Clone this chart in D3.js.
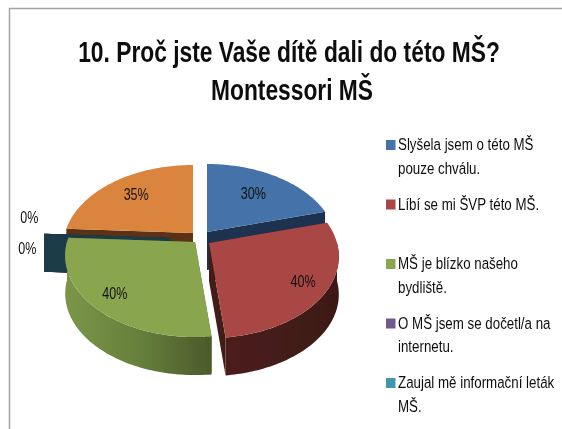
<!DOCTYPE html>
<html lang="cs">
<head>
<meta charset="utf-8">
<script src="https://cdn.jsdelivr.net/npm/d3@7"></script>
<style>
html,body{margin:0;padding:0;background:#fff}
svg{display:block}
text{font-family:"Liberation Sans",sans-serif;fill:#111}
</style>
</head>
<body>
<svg id="chart" width="562" height="429"></svg>
<script>
const titleLines = ["10. Proč jste Vaše dítě dali do této MŠ?", "Montessori MŠ"];
const sliceKeys = ["slysela", "libi", "blizko", "internet", "letak", "jine"];
const sliceValues = [30, 40, 40, 0, 0, 35];
const sliceLabels = ["30%", "40%", "40%", "0%", "0%", "35%"];
const legendLabels = [
  ["Slyšela jsem o této MŠ", "pouze chválu."],
  ["Líbí se mi ŠVP této MŠ."],
  ["MŠ je blízko našeho", "bydliště."],
  ["O MŠ jsem se dočetl/a na", "internetu."],
  ["Zaujal mě informační leták", "MŠ."]
];
const topColors = ["#4472a8", "#a94644", "#89a54e", "#71588f", "#4198af", "#db843d"];

// Layout (pixels), separate from the data
const W = 562, H = 429;
const R = 128, RY = 79.3, K = 0.166, DEPTH = 38;
const SQUEEZE = 0.76, LEGEND_SQUEEZE = 0.775;
const centers = [[207, 232], [209, 243], [195, 242], [171, 238], [171, 238], [193, 233]];
const wallColors = ["#1b3150", "#431b19", "#55682f", "#35294a", "#1b3b49", "#5c3316"];
const labelRadius = [0.65, 0.82, 0.82, 0, 0, 0.7];
const zeroLabelOffset = { 3: [-15, -15], 4: [-17, 16] };

const svg = d3.select("#chart");
const defs = svg.append("defs");
defs.append("filter").attr("id", "soft").append("feGaussianBlur").attr("stdDeviation", 0.35);
const grad = (id, x1, x2, stops) => {
  const g = defs.append("linearGradient").attr("id", id).attr("gradientUnits", "userSpaceOnUse")
    .attr("x1", x1).attr("x2", x2).attr("y1", 0).attr("y2", 0);
  stops.forEach(([o, c]) => g.append("stop").attr("offset", o).attr("stop-color", c));
};
grad("greenWall", 66, 212, [[0, "#7b9548"], [0.5, "#66803c"], [1, "#4a5a2a"]]);
grad("redWall", 212, 340, [[0, "#4f201e"], [0.6, "#431b19"], [1, "#3d1917"]]);

const root = svg.append("g").attr("filter", "url(#soft)");
const squeezed = (x, y, k = SQUEEZE) => `translate(${x},${y}) scale(${k},1)`;

// Frame
root.append("path").attr("d", d3.line()([[W, 8.5], [9.5, 8.5], [9.5, H]]))
  .attr("fill", "none").attr("stroke", "#a3a3a3").attr("stroke-width", 1.5);

// Title
root.selectAll("text.title").data(titleLines).join("text").attr("class", "title")
  .attr("transform", (d, i) => squeezed(289 + i * 3, 62 + i * 37.5))
  .attr("text-anchor", "middle").attr("font-size", 30).attr("font-weight", 700)
  .text(d => d);

// Perspective projection of a point on the unit pie plane
const project = (a, r, c, drop = 0) => {
  const u = Math.sin(a) * r, v = -Math.cos(a) * r, s = 1 / (1 - K * v);
  return [c[0] + R * u * s, c[1] + RY * v * s + drop];
};
const line = d3.line();
const sampleAngles = (a0, a1) => {
  const n = Math.max(2, Math.ceil(Math.abs(a1 - a0) / 0.02));
  return d3.range(n + 1).map(i => a0 + (a1 - a0) * i / n);
};

const arcs = d3.pie().sort(null).value(d => d)(sliceValues);
const paintOrder = [5, 3, 4, 0, 2, 1];

paintOrder.forEach(i => {
  const d = arcs[i], c = centers[i];
  const g = root.append("g").attr("data-key", sliceKeys[i]);
  // radial walls
  [d.startAngle, d.endAngle].forEach(a => {
    g.append("path").attr("fill", wallColors[i]).attr("d", line([
      project(a, 0, c), project(a, 1, c), project(a, 1, c, DEPTH), project(a, 0, c, DEPTH)
    ]) + "Z");
  });
  // outer rim, front half only
  const from = Math.max(d.startAngle, Math.PI / 2), to = Math.min(d.endAngle, Math.PI * 1.5);
  if (to > from) {
    const as = sampleAngles(from, to);
    const pts = as.map(a => project(a, 1, c)).concat(as.slice().reverse().map(a => project(a, 1, c, DEPTH)));
    g.append("path").attr("d", line(pts) + "Z")
      .attr("fill", i === 2 ? "url(#greenWall)" : i === 1 ? "url(#redWall)" : wallColors[i]);
  }
  // top face
  if (d.endAngle > d.startAngle) {
    const pts = [project(0, 0, c)].concat(sampleAngles(d.startAngle, d.endAngle).map(a => project(a, 1, c)));
    g.append("path").attr("d", line(pts) + "Z").attr("fill", topColors[i]);
  }
});

// Data labels
const labelXY = (d, i) => {
  if (d.value === 0) {
    const p = project(d.startAngle, 1, centers[i]);
    return [p[0] + zeroLabelOffset[i][0], p[1] + zeroLabelOffset[i][1]];
  }
  return project((d.startAngle + d.endAngle) / 2, labelRadius[i], centers[i]);
};
root.selectAll("text.pct").data(arcs).join("text").attr("class", "pct")
  .attr("text-anchor", "middle").attr("dominant-baseline", "middle").attr("font-size", 16.5)
  .attr("transform", (d, i) => { const p = labelXY(d, i); return squeezed(p[0], p[1]); })
  .text((d, i) => sliceLabels[i]);

// Legend
const rowY = d3.scalePoint().domain(d3.range(legendLabels.length)).range([145, 383]);
const rows = root.selectAll("g.leg").data(legendLabels).join("g").attr("class", "leg")
  .attr("transform", (d, i) => `translate(386,${rowY(i)})`);
rows.append("rect").attr("x", 0).attr("y", -5).attr("width", 9.5).attr("height", 10)
  .attr("fill", (d, i) => topColors[i]);
rows.selectAll("text").data(d => d).join("text")
  .attr("transform", (d, j) => squeezed(12, 5 + j * 23.5, LEGEND_SQUEEZE)).attr("font-size", 17.2).text(d => d);
</script>
</body>
</html>
